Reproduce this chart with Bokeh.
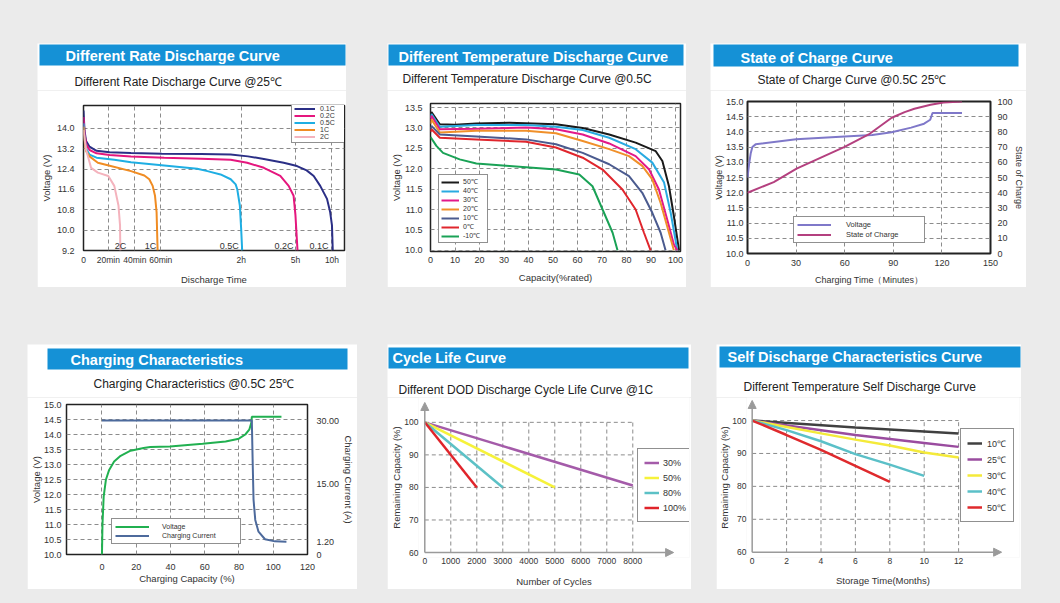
from bokeh.plotting import figure
from bokeh.models import (Range1d, LinearAxis, FixedTicker, Legend, LegendItem,
                          Spacer, Arrow, NormalHead, PrintfTickFormatter)
from bokeh.layouts import row, column
from bokeh.embed import file_html
from bokeh.resources import INLINE
from bokeh.core.properties import value

FONT = "Liberation Sans"
BLUE = "#1591d6"
BG = "#ebebeb"
GRID = "#8c8c8c"
TXT = "#333333"
AXG = "#9a9a9a"

# ---------------- Panel 1 : different rate discharge ----------------
rate_names = ["0.1C", "0.2C", "0.5C", "1C", "2C"]
rate_colors = ["#2b2f86", "#e5177e", "#1eaee3", "#f08c23", "#f4b3bd"]
time_ticks = [0, 9.5, 19.7, 29.6, 60.4, 81.2, 95.2]
time_tick_labels = ["0", "20min", "40min", "60min", "2h", "5h", "10h"]
volt1_ticks = [9.2, 10.0, 10.8, 11.6, 12.4, 13.2, 14.0]
t_01 = [0, 0.4, 1.0, 2.3, 5, 10, 18.2, 30, 45, 56.4, 63, 69.1, 76.7, 81.8, 85.5, 88.2, 90.7, 93.3, 94.5, 95.2, 95.5]
v_01 = [14.7, 13.9, 13.5, 13.28, 13.12, 13.06, 13.03, 13.0, 12.99, 12.97, 12.9, 12.8, 12.65, 12.52, 12.35, 12.13, 11.74, 11.23, 10.71, 10.19, 9.2]
t_02 = [0, 0.4, 1.0, 2.3, 5, 10, 18.2, 30.9, 45, 56.4, 62.7, 69.1, 75.4, 78.6, 80.5, 81.2, 81.6, 82.0]
v_02 = [14.45, 13.8, 13.4, 13.15, 13.02, 12.95, 12.9, 12.85, 12.81, 12.77, 12.65, 12.45, 12.13, 11.74, 11.35, 10.6, 9.9, 9.2]
t_05 = [0, 0.4, 1.0, 2.3, 5, 11.8, 18.2, 30.9, 43.6, 47.5, 52.5, 56.4, 58.3, 58.9, 59.9, 60.4, 60.8]
v_05 = [14.2, 13.6, 13.2, 12.97, 12.85, 12.77, 12.67, 12.54, 12.41, 12.32, 12.19, 12.0, 11.8, 11.61, 10.97, 10.06, 9.2]
t_1 = [0, 0.4, 1.0, 2.3, 5.5, 9.3, 18.2, 23.3, 25.2, 26.5, 27.4, 28.0, 28.4]
v_1 = [14.07, 13.5, 13.1, 12.9, 12.65, 12.55, 12.32, 12.15, 12.0, 11.74, 11.35, 10.71, 9.2]
t_2 = [0, 0.4, 1.0, 2.9, 5.5, 9.5, 11.8, 13.4, 14.0, 14.1]
v_2 = [13.94, 13.6, 13.16, 12.45, 12.26, 12.13, 11.74, 10.97, 10.19, 9.2]
end_labels = ["2C", "1C", "0.5C", "0.2C", "0.1C"]
end_label_x = [16.4, 27.9, 59.5, 80.5, 93.9]

# ---------------- Panel 2 : different temperature discharge ----------------
temp_names = ["50℃", "40℃", "30℃", "20℃", "10℃", "0℃", "-10℃"]
temp_colors = ["#1a1a1a", "#29aae1", "#e2198a", "#f0902a", "#4b5b8f", "#e0262d", "#1aa256"]
cap_50 = [0, 0.4, 3.8, 10, 18.7, 32.2, 51.2, 62.1, 72.9, 83.7, 91.9, 94.6, 97.3, 99.3, 101.4]
v_50 = [13.3, 13.39, 13.09, 13.08, 13.11, 13.13, 13.09, 13.0, 12.84, 12.64, 12.43, 12.19, 11.57, 10.84, 10.0]
cap_40 = [0, 0.4, 3.8, 18.7, 39.0, 51.2, 62.1, 72.9, 83.7, 90.5, 95.3, 98.0, 100.7]
v_40 = [13.25, 13.34, 13.03, 13.07, 13.07, 13.03, 12.95, 12.76, 12.48, 12.15, 11.66, 10.92, 10.0]
cap_30 = [0, 0.4, 3.8, 18.7, 39.0, 51.2, 62.1, 72.9, 83.7, 89.2, 93.2, 96.6, 99.3, 100.7]
v_30 = [13.2, 13.3, 12.97, 12.98, 13.01, 12.97, 12.84, 12.62, 12.31, 11.98, 11.49, 10.75, 10.14, 10.0]
cap_20 = [0, 0.4, 3.8, 18.7, 39.0, 51.2, 62.1, 72.9, 81.0, 86.4, 90.5, 93.9, 97.3, 99.3]
v_20 = [13.1, 13.21, 12.89, 12.93, 12.93, 12.87, 12.68, 12.48, 12.31, 12.07, 11.74, 11.16, 10.43, 10.0]
cap_10 = [0, 0.4, 3.8, 18.7, 39.0, 51.2, 62.1, 72.9, 81.0, 86.4, 90.5, 93.9, 95.9]
v_10 = [12.95, 13.05, 12.84, 12.79, 12.72, 12.6, 12.39, 12.11, 11.82, 11.41, 10.92, 10.43, 10.0]
cap_0 = [0, 0.4, 3.8, 18.7, 39.0, 51.2, 62.1, 70.2, 78.3, 83.7, 87.1, 89.8]
v_0 = [12.9, 12.97, 12.76, 12.72, 12.66, 12.52, 12.27, 11.98, 11.49, 11.0, 10.43, 10.0]
cap_m10 = [0, 2.4, 5.1, 11.9, 18.7, 32.2, 51.2, 60.7, 66.1, 70.2, 74.3, 76.3]
v_m10 = [12.78, 12.56, 12.39, 12.23, 12.13, 12.07, 11.98, 11.86, 11.57, 11.0, 10.43, 10.0]
cap_ticks = [0, 10, 20, 30, 40, 50, 60, 70, 80, 90, 100]
volt2_ticks = [10.0, 10.5, 11.0, 11.5, 12.0, 12.5, 13.0, 13.5]

# ---------------- Panel 3 : state of charge ----------------
soc_time_v = [0, 1, 2, 3, 5, 30, 60, 77, 89, 101, 109, 112.8, 114.2, 132.4]
soc_volt = [12.5, 12.95, 13.3, 13.5, 13.59, 13.76, 13.85, 13.9, 13.99, 14.14, 14.27, 14.4, 14.62, 14.62]
soc_time_s = [0, 16.2, 30.3, 59.6, 74.8, 89, 97, 103, 113, 121, 132.4]
soc_pct = [40, 47, 55.8, 70, 78.3, 89.3, 93, 95.2, 97.8, 99.3, 100]
minute_ticks = [0, 30, 60, 90, 120, 150]
volt3_ticks = [10.0, 10.5, 11.0, 11.5, 12.0, 12.5, 13.0, 13.5, 14.0, 14.5, 15.0]
soc_ticks = [0, 10, 20, 30, 40, 50, 60, 70, 80, 90, 100]

# ---------------- Panel 4 : charging characteristics ----------------
chg_cap_v = [0, 0.3, 1.0, 2.3, 4.2, 7.1, 10.9, 16.7, 24.3, 28.2, 39.7, 58.8, 72.2, 79.9, 83.7, 86.0, 87.2, 87.5, 104.8]
chg_volt = [10.0, 11.0, 11.93, 12.49, 12.82, 13.1, 13.29, 13.46, 13.55, 13.58, 13.6, 13.69, 13.77, 13.86, 14.0, 14.16, 14.39, 14.59, 14.59]
chg_cap_i = [0, 87.5, 88.0, 88.5, 89.5, 91.4, 95.2, 101, 107.7]
chg_current = [30, 30, 20, 11.2, 6.4, 3.6, 1.8, 1.3, 1.2]
chg_cap_ticks = [0, 20, 40, 60, 80, 100, 120]
volt4_ticks = [10.0, 10.5, 11.0, 11.5, 12.0, 12.5, 13.0, 13.5, 14.0, 14.5, 15.0]
current_ticks = [-1.82, 1.2, 15, 30]
current_tick_labels = ["0", "1.20", "15.00", "30.00"]

# ---------------- Panel 5 : cycle life ----------------
dod_names = ["30%", "50%", "80%", "100%"]
dod_colors = ["#a45ba9", "#f6f23a", "#5cc1c6", "#e0242a"]
dod_cycles = [[0, 8000], [0, 5000], [0, 3000], [0, 2000]]
dod_capacity = [[100, 80.6], [100, 80], [100, 80], [100, 80]]
cycle_ticks = [0, 1000, 2000, 3000, 4000, 5000, 6000, 7000, 8000]
remain_ticks = [60, 70, 80, 90, 100]

# ---------------- Panel 6 : self discharge ----------------
sd_names = ["10℃", "25℃", "30℃", "40℃", "50℃"]
sd_colors = ["#404040", "#9a4c9f", "#f4ea3a", "#5bc0c8", "#df2a2d"]
sd_months = [[0, 6, 12], [0, 6, 10, 12], [0, 4, 6, 8, 10, 12], [0, 2, 4, 6, 8, 10], [0, 2, 4, 6, 8]]
sd_capacity = [[100, 97.9, 96.1], [100, 95.6, 93.2, 92.0], [100, 96.1, 94.2, 92.4, 90.3, 88.8],
               [100, 97.1, 93.7, 89.8, 86.6, 83.2], [100, 95.6, 91.1, 86.2, 81.4]]
month_ticks = [0, 2, 4, 6, 8, 10, 12]


# ---------------- helpers ----------------
def header_fig(W, H, bar, title, title_xy, sub, sub_xy):
    p = figure(width=W, height=H, x_range=Range1d(0, W), y_range=Range1d(H, 0),
               toolbar_location=None, output_backend="svg", min_border=0,
               x_axis_location=None, y_axis_location=None, outline_line_color=None,
               background_fill_color="white", border_fill_color="white")
    p.grid.visible = False
    l, r, t, b = bar
    p.quad(left=[l], right=[r], top=[t], bottom=[b], fill_color=BLUE, line_color=None)
    p.text(x=[title_xy[0]], y=[title_xy[1]], text=[title], text_font=value(FONT),
           text_font_size="14.5px", text_font_style="bold", text_color="white",
           text_baseline="middle", text_align="left")
    p.text(x=[sub_xy[0]], y=[sub_xy[1]], text=[sub], text_font=value(FONT),
           text_font_size="12px", text_color="#222222",
           text_baseline="middle", text_align="left")
    return p


def chart_fig(W, H, borders, xr, yr, outline=True):
    l, t, r, b = borders
    p = figure(width=W, height=H, x_range=xr, y_range=yr, toolbar_location=None,
               output_backend="svg", min_border_left=l, min_border_top=t,
               min_border_right=r, min_border_bottom=b,
               background_fill_color="white", border_fill_color="white",
               outline_line_color="#222222" if outline else None, outline_line_width=1.5)
    return p


def style_axes(p, tick_size="9px", label_size="9.5px"):
    for ax in p.axis:
        ax.major_tick_line_color = None
        ax.minor_tick_line_color = None
        ax.major_tick_out = 0
        ax.major_tick_in = 0
        ax.minor_tick_out = 0
        ax.minor_tick_in = 0
        ax.axis_line_color = None
        ax.major_label_text_font = FONT
        ax.major_label_text_font_size = tick_size
        ax.major_label_text_color = TXT
        ax.axis_label_text_font = FONT
        ax.axis_label_text_font_size = label_size
        ax.axis_label_text_font_style = "normal"
        ax.axis_label_text_color = TXT


def set_standoffs(ax, tick, label):
    ax.major_label_standoff = tick
    ax.axis_label_standoff = label


def style_grid(p):
    p.grid.grid_line_color = GRID
    p.grid.grid_line_dash = "4 3"
    p.grid.grid_line_width = 1


def add_legend(p, items, loc, size, glyph_w, label_h, padding, standoff, label_w, spacing=0):
    lg = Legend(items=items, location=loc, orientation="vertical",
                label_text_font=FONT, label_text_font_size=size, label_text_color=TXT,
                glyph_width=glyph_w, glyph_height=label_h, label_height=label_h,
                label_width=label_w, padding=padding, spacing=spacing,
                label_standoff=standoff, border_line_color="#222222", border_line_width=1.5,
                background_fill_color="white", background_fill_alpha=1.0, margin=0)
    p.add_layout(lg)


def axis_arrow(p, x0, y0, x1, y1):
    p.add_layout(Arrow(end=NormalHead(size=8, fill_color=AXG, line_color=AXG),
                       x_start=x0, y_start=y0, x_end=x1, y_end=y1,
                       line_color=AXG, line_width=1.5))


# ================= Panel 1 =================
h1 = header_fig(309, 47, (2, 308, 1, 22), "Different Rate Discharge Curve", (28, 12),
                "Different Rate Discharge Curve @25℃", (37, 38))
p1 = chart_fig(309, 197, (45, 15, 2, 35), Range1d(0, 100), Range1d(9.2, 14.9))
p1.xaxis.ticker = FixedTicker(ticks=time_ticks)
p1.xaxis.major_label_overrides = dict(zip(time_ticks, time_tick_labels))
p1.yaxis.ticker = FixedTicker(ticks=volt1_ticks)
p1.yaxis.formatter = PrintfTickFormatter(format="%.1f")
p1.xaxis.axis_label = "Discharge Time"
p1.yaxis.axis_label = "Voltage (V)"
style_axes(p1)
p1.xaxis.major_label_text_font_size = "8.5px"
style_grid(p1)
set_standoffs(p1.yaxis[0], 9, 2)
set_standoffs(p1.xaxis[0], 4, 6)
r1 = []
for xs, ys, c in zip([t_01, t_02, t_05, t_1, t_2], [v_01, v_02, v_05, v_1, v_2], rate_colors):
    r1.append(p1.line(xs, ys, line_color=c, line_width=2))
p1.text(x=end_label_x, y=[9.38] * len(end_labels), text=end_labels, text_font=value(FONT),
        text_font_size="9px", text_color=TXT, text_align="right", text_baseline="middle")
add_legend(p1, [LegendItem(label=n, renderers=[r]) for n, r in zip(rate_names, r1)],
           (208, 107), "7px", 21, 7, 2, 5, 23)

# ================= Panel 2 =================
h2 = header_fig(299, 47, (1, 296, 1, 22), "Different Temperature Discharge Curve", (11, 13),
                "Different Temperature Discharge Curve @0.5C", (15, 35))
p2 = chart_fig(299, 197, (42, 13, 6, 36), Range1d(0, 102), Range1d(9.97, 13.6))
p2.xaxis.ticker = FixedTicker(ticks=cap_ticks)
p2.yaxis.ticker = FixedTicker(ticks=volt2_ticks)
p2.yaxis.formatter = PrintfTickFormatter(format="%.1f")
p2.xaxis.axis_label = "Capacity(%rated)"
p2.yaxis.axis_label = "Voltage (V)"
style_axes(p2)
style_grid(p2)
set_standoffs(p2.yaxis[0], 8, 0)
set_standoffs(p2.xaxis[0], 5, 6)
r2 = []
for xs, ys, c in zip([cap_50, cap_40, cap_30, cap_20, cap_10, cap_0, cap_m10],
                     [v_50, v_40, v_30, v_20, v_10, v_0, v_m10], temp_colors):
    r2.append(p2.line(xs, ys, line_color=c, line_width=2))
add_legend(p2, [LegendItem(label=n, renderers=[r]) for n, r in zip(temp_names, r2)],
           (8, 8), "7px", 18, 8, 2, 4, 22)

# ================= Panel 3 =================
h3 = header_fig(316, 47, (3, 308, 1, 23), "State of Charge Curve", (30, 14),
                "State of Charge Curve @0.5C 25℃", (47, 36))
p3 = chart_fig(316, 197, (35, 11, 34, 34), Range1d(0, 150), Range1d(10, 15))
p3.outline_line_width = 2
p3.extra_y_ranges = {"soc": Range1d(0, 100)}
p3.add_layout(LinearAxis(y_range_name="soc", axis_label="State of Charge",
                         ticker=FixedTicker(ticks=soc_ticks)), "right")
p3.xaxis.ticker = FixedTicker(ticks=minute_ticks)
p3.yaxis[0].ticker = FixedTicker(ticks=volt3_ticks)
p3.yaxis[0].formatter = PrintfTickFormatter(format="%.1f")
p3.xaxis.axis_label = "Charging Time（Minutes）"
p3.yaxis[0].axis_label = "Voltage (V)"
style_axes(p3, label_size="9px")
style_grid(p3)
set_standoffs(p3.yaxis[0], 4, -1)
set_standoffs(p3.yaxis[1], 7, -2)
set_standoffs(p3.xaxis[0], 6, 6)
rv3 = p3.line(soc_time_v, soc_volt, line_color="#7f78c9", line_width=2)
rs3 = p3.line(soc_time_s, soc_pct, line_color="#b4407f", line_width=2, y_range_name="soc")
add_legend(p3, [LegendItem(label="Voltage", renderers=[rv3]),
                LegendItem(label="State of Charge", renderers=[rs3])],
           (46, 10), "7.5px", 34, 9, 3, 15, 75, spacing=1)

# ================= Panel 4 =================
h4 = header_fig(330, 53, (20, 320, 4, 25), "Charging Characteristics", (43, 15),
                "Charging Characteristics @0.5C 25℃", (66, 39))
p4 = chart_fig(330, 192, (38, 7, 49, 35), Range1d(-20.7, 120), Range1d(10, 15))
p4.extra_y_ranges = {"cur": Range1d(-1.82, 33.83)}
p4.add_layout(LinearAxis(y_range_name="cur", axis_label="Charging Current (A)",
                         ticker=FixedTicker(ticks=current_ticks),
                         major_label_overrides=dict(zip(current_ticks, current_tick_labels))), "right")
p4.xaxis.ticker = FixedTicker(ticks=chg_cap_ticks)
p4.yaxis[0].ticker = FixedTicker(ticks=volt4_ticks)
p4.yaxis[0].formatter = PrintfTickFormatter(format="%.1f")
p4.xaxis.axis_label = "Charging Capacity (%)"
p4.yaxis[0].axis_label = "Voltage (V)"
style_axes(p4)
style_grid(p4)
set_standoffs(p4.yaxis[0], 5, -1)
set_standoffs(p4.yaxis[1], 9, 1)
set_standoffs(p4.xaxis[0], 9, 0)
rv4 = p4.line(chg_cap_v, chg_volt, line_color="#21b050", line_width=2)
ri4 = p4.line(chg_cap_i, chg_current, line_color="#4d6a9c", line_width=2, y_range_name="cur")
add_legend(p4, [LegendItem(label="Voltage", renderers=[rv4]),
                LegendItem(label="Charging Current", renderers=[ri4])],
           (45, 10), "7px", 34, 9, 3, 13, 75)

# ================= Panel 5 =================
h5 = header_fig(304, 53, (1, 301, 3, 24), "Cycle Life Curve", (5, 13),
                "Different DOD Discharge Cycle Life Curve @1C", (11, 45))
p5 = chart_fig(304, 192, (31, 0, 2, 31), Range1d(-242, 10181), Range1d(58.47, 107.63), outline=False)
p5.xaxis.ticker = FixedTicker(ticks=cycle_ticks)
p5.yaxis.ticker = FixedTicker(ticks=remain_ticks)
p5.xaxis.axis_label = "Number of Cycles"
p5.yaxis.axis_label = "Remaining Capacity (%)"
style_axes(p5, tick_size="8.5px")
p5.grid.visible = False
set_standoffs(p5.yaxis[0], 0, -1)
set_standoffs(p5.xaxis[0], 0, 9)
gx = cycle_ticks[1:]
p5.segment(x0=gx, y0=[remain_ticks[0]] * len(gx), x1=gx, y1=[remain_ticks[-1]] * len(gx),
           line_color=GRID, line_dash="4 3", line_width=1)
gy = remain_ticks[1:]
p5.segment(x0=[cycle_ticks[0]] * len(gy), y0=gy, x1=[cycle_ticks[-1]] * len(gy), y1=gy,
           line_color=GRID, line_dash="4 3", line_width=1)
r5 = []
for xs, ys, c in zip(dod_cycles, dod_capacity, dod_colors):
    r5.append(p5.line(xs, ys, line_color=c, line_width=2.5))
axis_arrow(p5, 0, 60, 0, 106.1)
axis_arrow(p5, 0, 60, 9570, 60)
add_legend(p5, [LegendItem(label=n, renderers=[r]) for n, r in zip(dod_names, r5)],
           (219, 35), "9px", 15, 15, 6, 4, 18)

# ================= Panel 6 =================
h6 = header_fig(305, 53, (3, 304, 2, 23), "Self Discharge Characteristics Curve", (11, 12),
                "Different Temperature Self Discharge Curve", (27, 42))
p6 = chart_fig(305, 192, (30, 0, 2, 32), Range1d(-0.33, 15.54), Range1d(58.39, 107.0), outline=False)
p6.xaxis.ticker = FixedTicker(ticks=month_ticks)
p6.yaxis.ticker = FixedTicker(ticks=remain_ticks)
p6.xaxis.axis_label = "Storage Time(Months)"
p6.yaxis.axis_label = "Remaining Capacity (%)"
style_axes(p6, tick_size="8.5px")
p6.grid.visible = False
set_standoffs(p6.yaxis[0], 0, -1)
set_standoffs(p6.xaxis[0], 0, 8)
gx6 = month_ticks[1:]
p6.segment(x0=gx6, y0=[remain_ticks[0]] * len(gx6), x1=gx6, y1=[remain_ticks[-1]] * len(gx6),
           line_color=GRID, line_dash="4 3", line_width=1)
p6.segment(x0=[month_ticks[0]] * len(gy), y0=gy, x1=[month_ticks[-1]] * len(gy), y1=gy,
           line_color=GRID, line_dash="4 3", line_width=1)
r6 = []
for xs, ys, c in zip(sd_months, sd_capacity, sd_colors):
    r6.append(p6.line(xs, ys, line_color=c, line_width=2.5))
axis_arrow(p6, 0, 60, 0, 106.1)
axis_arrow(p6, 0, 60, 14.5, 60)
add_legend(p6, [LegendItem(label=n, renderers=[r]) for n, r in zip(sd_names, r6)],
           (214, 35), "9px", 15, 16, 6, 5, 20)

# ================= Layout =================
def sp(w, h):
    return Spacer(width=w, height=h)


def panel(h, p):
    return column(column(h), column(p), spacing=0)


row1 = row(sp(37, 244), panel(h1, p1), sp(41, 244), panel(h2, p2), sp(24, 244),
           panel(h3, p3), sp(34, 244), spacing=0)
row2 = row(sp(27, 245), panel(h4, p4), sp(30, 245), panel(h5, p5), sp(25, 245),
           panel(h6, p6), sp(39, 245), spacing=0)
page = column(sp(1060, 43), row1, sp(1060, 57), row2, sp(1060, 14), spacing=0,
              styles={"background-color": BG})

open("out.html", "w").write(file_html(page, INLINE))
